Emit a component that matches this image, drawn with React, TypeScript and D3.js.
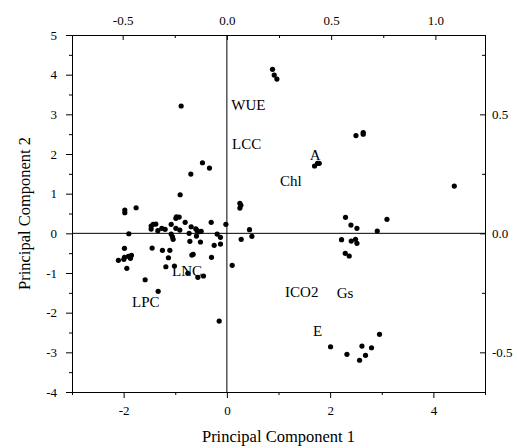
import React, { useEffect, useRef } from "react";
import { select, scaleLinear, axisBottom, axisLeft, axisTop, axisRight } from "d3";

// PCA scores (Principal Component 1 / 2)
const scoreX = [
  -0.473, -0.337, -0.698, -0.905, -0.886, -1.758, -1.977, -1.977, -1.899, -1.984,
  -2.101, -1.996, -1.984, -1.907, -1.868, -1.849, -1.938, -1.583, -1.331, -1.448,
  -1.248, -1.105, -1.132, -1.182, -1.467, -1.467, -1.428, -1.376, -1.337, -1.26,
  -1.196, -1.079, -1.079, -1.054, -1.041, -0.988, -0.977, -0.924, -0.988, -0.911,
  -0.808, -0.731, -0.717, -0.692, -0.678, -0.653, -0.601, -0.576, -0.537, -0.498,
  -0.589, -0.512, -0.756, -0.562, -0.453, -0.298, -0.246, -0.304, -0.188, -0.124,
  -0.124, -0.019, 0.103, 0.252, 0.271, 0.252, 0.277, 0.438, 0.484, -1.016,
  -0.149, 0.884, 0.917, 0.969, 2.5, 2.641, 2.641, 1.698, 1.756, 1.789,
  2.298, 2.403, 2.519, 2.221, 2.409, 2.492, 2.519, 2.293, 2.37, 2.913,
  3.101, 4.405, 2.008, 2.326, 2.57, 2.616, 2.686, 2.802, 2.957,
];
const scoreY = [
  1.78, 1.646, 1.495, 0.973, 3.21, 0.645, 0.587, 0.519, -0.01, -0.378,
  -0.681, -0.655, -0.605, -0.58, -0.63, -0.555, -0.882, -1.17, -1.462, -0.371,
  -0.429, -0.429, -0.615, -0.842, 0.184, 0.108, 0.227, 0.234, 0.066, 0.126,
  0.101, 0.227, -0.018, -0.086, -0.151, 0.378, 0.418, 0.411, 0.126, 0.083,
  0.277, 0.0, -0.202, 0.166, -0.547, -0.529, 0.116, 0.066, 0.04, 0.05,
  -0.068, -0.219, -1.008, -1.109, -1.076, -0.605, -0.302, 0.277, -0.018, -0.101,
  -0.27, 0.227, -0.807, 0.756, 0.706, 0.638, -0.151, 0.091, -0.076, -0.824,
  -2.211, 4.134, 3.99, 3.89, 2.465, 2.541, 2.5, 1.697, 1.765, 1.765,
  0.403, 0.209, 0.126, -0.161, -0.194, -0.151, -0.252, -0.504, -0.572, 0.058,
  0.353, 1.192, -2.859, -3.05, -3.2, -2.841, -3.075, -2.884, -2.546,
];

// variable loadings (top / right axes)
const loadingNames = ["WUE", "LCC", "A", "Chl", "LNC", "LPC", "ICO2", "Gs", "E"];
const loadingX = [0.021, 0.025, 0.397, 0.255, -0.263, -0.455, 0.279, 0.527, 0.413];
const loadingY = [0.517, 0.353, 0.307, 0.197, -0.181, -0.309, -0.267, -0.27, -0.431];

const bottomTicks = [-2, 0, 2, 4];
const bottomMinor = [-3, -1, 1, 3, 5];
const leftTicks = [-4, -3, -2, -1, 0, 1, 2, 3, 4, 5];
const leftMinor = [-3.5, -2.5, -1.5, -0.5, 0.5, 1.5, 2.5, 3.5, 4.5];
const topTicks = [-0.5, 0, 0.5, 1.0];
const topMinor = [-0.25, 0.25, 0.75];
const rightTicks = [-0.5, 0, 0.5];
const rightMinor = [-0.25, 0.25, 0.75];

const font = "'Liberation Serif', 'Times New Roman', serif";

function PcaBiplot() {
  const svgRef = useRef<SVGSVGElement>(null);

  const width = 517;
  const height = 448;
  const margin = { top: 35, left: 72, right: 32, bottom: 56 };

  useEffect(() => {
    const svg = select(svgRef.current);
    svg.selectAll("*").remove();

    const innerW = width - margin.left - margin.right;
    const innerH = height - margin.top - margin.bottom;

    const x = scaleLinear().domain([-3, 5]).range([0, innerW]);
    const y = scaleLinear().domain([-4, 5]).range([innerH, 0]);
    const xTop = scaleLinear().domain([-0.743, 1.238]).range([0, innerW]);
    const yRight = scaleLinear().domain([-4 / 6, 5 / 6]).range([innerH, 0]);

    const g = svg
      .append("g")
      .attr("transform", `translate(${margin.left}, ${margin.top})`);

    const styleAxis = (sel: any) => {
      sel.attr("font-family", font).attr("font-size", 13);
      sel.selectAll("text").attr("fill", "#000").attr("font-family", font);
      sel.selectAll("line").attr("stroke", "#000");
      sel.selectAll("path").attr("stroke", "#000");
    };

    // reference lines through zero
    g.append("line")
      .attr("x1", x(0)).attr("x2", x(0))
      .attr("y1", 0).attr("y2", innerH)
      .attr("stroke", "#000");
    g.append("line")
      .attr("x1", 0).attr("x2", innerW)
      .attr("y1", y(0)).attr("y2", y(0))
      .attr("stroke", "#000");

    // minor ticks
    g.append("g")
      .attr("transform", `translate(0, ${innerH})`)
      .call(axisBottom(x).tickValues(bottomMinor).tickSize(3).tickFormat(() => "").tickSizeOuter(0))
      .call(styleAxis);
    g.append("g")
      .call(axisLeft(y).tickValues(leftMinor).tickSize(3).tickFormat(() => "").tickSizeOuter(0))
      .call(styleAxis);
    g.append("g")
      .call(axisTop(xTop).tickValues(topMinor).tickSize(-3).tickFormat(() => "").tickSizeOuter(0))
      .call(styleAxis);
    g.append("g")
      .attr("transform", `translate(${innerW}, 0)`)
      .call(axisRight(yRight).tickValues(rightMinor).tickSize(-3).tickFormat(() => "").tickSizeOuter(0))
      .call(styleAxis);

    // major ticks
    g.append("g")
      .attr("transform", `translate(0, ${innerH})`)
      .call(axisBottom(x).tickValues(bottomTicks).tickSize(6).tickPadding(8).tickSizeOuter(0).tickFormat((d: any) => String(d)))
      .call(styleAxis);
    g.append("g")
      .call(axisLeft(y).tickValues(leftTicks).tickSize(6).tickPadding(9).tickSizeOuter(0).tickFormat((d: any) => String(d)))
      .call(styleAxis);
    g.append("g")
      .call(axisTop(xTop).tickValues(topTicks).tickSize(-5).tickPadding(10).tickSizeOuter(0).tickFormat((d: any) => (+d).toFixed(1)))
      .call(styleAxis);
    g.append("g")
      .attr("transform", `translate(${innerW}, 0)`)
      .call(axisRight(yRight).tickValues(rightTicks).tickSize(-5).tickPadding(7).tickSizeOuter(0).tickFormat((d: any) => (+d).toFixed(1)))
      .call(styleAxis);

    // score points
    g.selectAll("circle")
      .data(scoreX.map((v, i) => [v, scoreY[i]]))
      .join("circle")
      .attr("cx", (d) => x(d[0]))
      .attr("cy", (d) => y(d[1]))
      .attr("r", 2.6)
      .attr("fill", "#000");

    // loading labels
    g.selectAll("text.loading")
      .data(loadingNames)
      .join("text")
      .attr("class", "loading")
      .attr("x", (d, i) => xTop(loadingX[i]))
      .attr("y", (d, i) => yRight(loadingY[i]))
      .attr("font-family", font)
      .attr("font-size", 15)
      .attr("fill", "#000")
      .text((d) => d);

    // axis titles
    svg.append("text")
      .attr("x", margin.left + innerW / 2)
      .attr("y", 442)
      .attr("text-anchor", "middle")
      .attr("font-family", font)
      .attr("font-size", 16.5)
      .text("Principal Component 1");
    svg.append("text")
      .attr("transform", `translate(30, ${margin.top + innerH / 2}) rotate(-90)`)
      .attr("text-anchor", "middle")
      .attr("font-family", font)
      .attr("font-size", 16.5)
      .text("Principal Component 2");
  }, []);

  return (
    <svg
      ref={svgRef}
      width={width}
      height={height}
      style={{ position: "absolute", left: 0, top: 0, background: "#fff" }}
    />
  );
}

export default function App() {
  return <PcaBiplot />;
}
